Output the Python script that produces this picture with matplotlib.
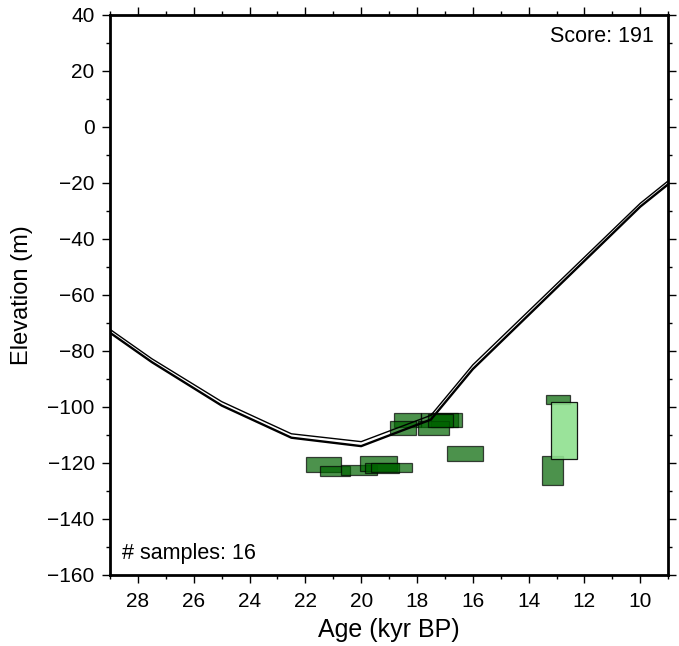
import matplotlib
matplotlib.use('Agg')
import matplotlib.pyplot as plt
import matplotlib.patches as patches
from matplotlib.ticker import MultipleLocator

plt.rcParams['font.family'] = ['Liberation Sans', 'DejaVu Sans']

# sea-level curve (age in kyr BP, elevation in m), lower and upper bound
curve_age = [29, 27.5, 25, 22.5, 20, 17.5, 16, 10, 9]
curve_low = [-73.5, -84, -99.5, -111, -114, -104.5, -86.5, -28.5, -20.5]
curve_high = [-72.3, -82.8, -98.1, -109.6, -112.4, -103.0, -85.0, -27.3, -19.3]

# sample boxes: age range and elevation range
box_age_old = [18.82, 17.87, 17.50, 18.98, 17.95, 16.91, 21.97, 21.47, 20.73, 20.04, 19.85, 19.65, 13.37, 13.53, 17.60, 13.19]
box_age_young = [17.86, 16.54, 16.40, 18.05, 16.85, 15.64, 20.73, 20.40, 19.42, 18.70, 18.63, 18.19, 12.51, 12.75, 16.70, 12.25]
box_elev_top = [-102.3, -102.3, -102.3, -105.2, -105.2, -113.8, -118.0, -121.1, -120.7, -117.7, -120.1, -120.1, -95.7, -117.7, -102.5, -98.3]
box_elev_bot = [-107.0, -107.3, -107.3, -110.2, -110.2, -119.2, -123.1, -124.6, -124.3, -122.8, -123.7, -123.3, -99.0, -127.9, -107.0, -118.5]
box_kind = ['dark'] * 15 + ['light']

score = 191

fig = plt.figure(figsize=(6.79, 6.46), dpi=100)
ax = fig.add_axes([0.162, 0.110, 0.822, 0.867])

for a0, a1, e0, e1, kind in zip(box_age_old, box_age_young, box_elev_top, box_elev_bot, box_kind):
    if kind == 'light':
        fc, alpha = '#8fe08f', 0.9
    else:
        fc, alpha = '#006400', 0.7
    ax.add_patch(patches.Rectangle((a1, e1), a0 - a1, e0 - e1, facecolor=fc,
                                   edgecolor='black', linewidth=0.9, alpha=alpha, zorder=2))

ax.plot(curve_age, curve_low, color='black', linewidth=1.7, zorder=3)
ax.plot(curve_age, curve_high, color='black', linewidth=1.0, zorder=3)

ax.set_xlim(29, 9)
ax.set_ylim(-160, 40)
ax.xaxis.set_major_locator(MultipleLocator(2))
ax.xaxis.set_minor_locator(MultipleLocator(1))
ax.yaxis.set_major_locator(MultipleLocator(20))
ax.yaxis.set_minor_locator(MultipleLocator(10))
ax.tick_params(which='both', direction='out', top=True, right=True,
               labeltop=False, labelright=False, width=1, labelsize=15)
ax.tick_params(which='major', length=6, pad=5)
ax.tick_params(which='minor', length=3)
ax.tick_params(axis='x', which='major', pad=6)
for s in ax.spines.values():
    s.set_linewidth(2)

ax.set_xlabel('Age (kyr BP)', fontsize=18, labelpad=5)
ax.set_ylabel('Elevation (m)', fontsize=17, labelpad=10)

ax.text(0.975, 0.98, f'Score: {score}', transform=ax.transAxes, ha='right', va='top', fontsize=15.5)
ax.text(0.022, 0.02, f'# samples: {len(box_kind)}', transform=ax.transAxes, ha='left', va='bottom', fontsize=15.5)

fig.savefig('out.png', dpi=100)
